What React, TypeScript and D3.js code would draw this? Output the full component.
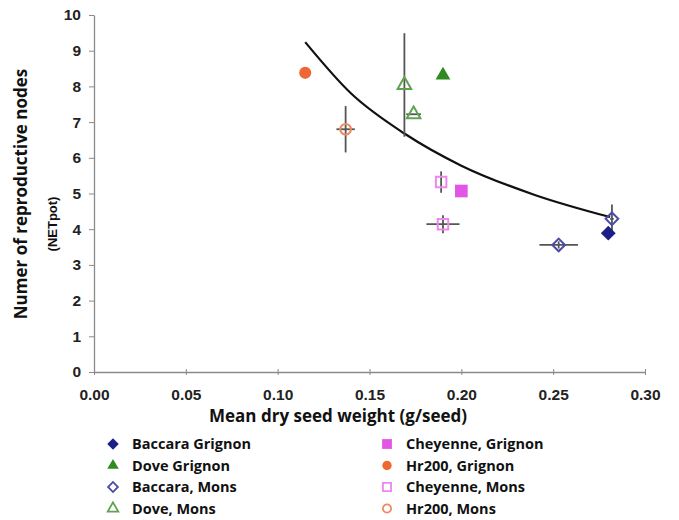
import React, { useEffect, useRef } from "react";
import * as d3 from "d3";

// series (legend order: left column then right column)
const seriesNames = [
  "Baccara Grignon",
  "Dove Grignon",
  "Baccara, Mons",
  "Dove, Mons",
  "Cheyenne, Grignon",
  "Hr200, Grignon",
  "Cheyenne, Mons",
  "Hr200, Mons",
];
const seriesShapes = ["diamond", "triangle", "diamond", "triangle", "square", "circle", "square", "circle"];
const seriesFilled = [true, true, false, false, true, true, false, false];
const seriesColors = ["#1c1f86", "#2f8a1f", "#4a4aa8", "#5fa352", "#e256e6", "#ef6733", "#ec88ee", "#ef8a5f"];

// observations
const pointSeries = [0, 1, 2, 2, 3, 3, 4, 5, 6, 6, 7];
const seedWeight = [0.28, 0.19, 0.282, 0.253, 0.169, 0.174, 0.2, 0.115, 0.189, 0.19, 0.137];
const nodes = [3.89, 8.31, 4.29, 3.56, 8.04, 7.22, 5.07, 8.38, 5.32, 4.14, 6.8];
const seedWeightErr = [0, 0, 0.001, 0.0105, 0, 0.004, 0, 0, 0, 0.009, 0.005];
const nodesErr = [0, 0, 0.4, 0.1, 1.45, 0, 0, 0, 0.3, 0.25, 0.65];

// trend line
const trendX = [0.115, 0.14, 0.169, 0.2, 0.24, 0.281];
const trendY = [9.24, 7.8, 6.68, 5.78, 4.96, 4.34];

const xTicks = [0, 0.05, 0.1, 0.15, 0.2, 0.25, 0.3];
const yTicks = [0, 1, 2, 3, 4, 5, 6, 7, 8, 9, 10];

const symbolTypes: Record<string, d3.SymbolType> = {
  diamond: d3.symbolSquare,
  triangle: d3.symbolTriangle,
  square: d3.symbolSquare,
  circle: d3.symbolCircle,
};
const symbolRotate: Record<string, number> = { diamond: 45, triangle: 0, square: 0, circle: 0 };
const openSizes: Record<string, number> = { diamond: 80, triangle: 80, square: 110, circle: 90 };
const filledSizes: Record<string, number> = { diamond: 110, triangle: 95, square: 160, circle: 115 };

export default function App() {
  const ref = useRef<SVGSVGElement>(null);

  useEffect(() => {
    const svg = d3.select(ref.current);
    svg.selectAll("*").remove();

    const x = d3.scaleLinear().domain([0, 0.3]).range([94, 645]);
    const y = d3.scaleLinear().domain([0, 10]).range([372, 15]);
    const axisColor = "#8a8a8a";
    const tickFont = "'Liberation Sans', Arial, sans-serif";
    const labelFont = "'Open Sans', sans-serif";

    // axes
    const gx = svg.append("g").attr("transform", `translate(0,${y(0)})`);
    gx.call(d3.axisBottom(x).tickValues(xTicks).tickSize(3).tickSizeOuter(0).tickFormat(d3.format(".2f")));
    gx.select(".domain").attr("stroke", axisColor).attr("stroke-width", 1.3);
    gx.selectAll(".tick line").attr("stroke", axisColor).attr("y1", -3).attr("y2", 3);
    gx.selectAll(".tick text")
      .attr("y", 17)
      .attr("fill", "#222")
      .attr("font-family", tickFont)
      .attr("font-weight", "bold")
      .attr("font-size", 15.5);

    const gy = svg.append("g").attr("transform", `translate(${x(0)},0)`);
    gy.call(d3.axisLeft(y).tickValues(yTicks).tickSize(5).tickSizeOuter(0));
    gy.select(".domain").attr("stroke", axisColor).attr("stroke-width", 1.3);
    gy.selectAll(".tick line").attr("stroke", axisColor);
    gy.selectAll(".tick text")
      .attr("x", -13)
      .attr("fill", "#222")
      .attr("font-family", tickFont)
      .attr("font-weight", "bold")
      .attr("font-size", 15.5);

    // titles
    svg.append("text")
      .attr("transform", `translate(27,194) rotate(-90)`)
      .attr("text-anchor", "middle")
      .attr("font-family", labelFont)
      .attr("font-weight", "bold")
      .attr("font-size", 17)
      .attr("fill", "#111")
      .text("Numer of reproductive nodes");
    svg.append("text")
      .attr("transform", `translate(57,224) rotate(-90)`)
      .attr("text-anchor", "middle")
      .attr("font-family", "'Liberation Sans Narrow', 'Liberation Sans', Arial, sans-serif")
      .attr("font-weight", "bold")
      .attr("font-size", 13)
      .attr("fill", "#111")
      .text("(NETpot)");
    svg.append("text")
      .attr("x", 338)
      .attr("y", 422)
      .attr("text-anchor", "middle")
      .attr("font-family", labelFont)
      .attr("font-weight", "bold")
      .attr("font-size", 17)
      .attr("fill", "#111")
      .text("Mean dry seed weight (g/seed)");

    // trend line
    const line = d3
      .line<number>()
      .x((d) => x(d))
      .y((d, i) => y(trendY[i]))
      .curve(d3.curveMonotoneX);
    svg.append("path")
      .attr("d", line(trendX))
      .attr("fill", "none")
      .attr("stroke", "#111")
      .attr("stroke-width", 2.2);

    // error bars
    const idx = d3.range(seedWeight.length);
    const eb = svg.append("g").attr("stroke", "#555").attr("stroke-width", 1.8);
    idx.filter((i) => nodesErr[i] > 0).forEach((i) => {
      eb.append("line")
        .attr("x1", x(seedWeight[i])).attr("x2", x(seedWeight[i]))
        .attr("y1", y(nodes[i] - nodesErr[i])).attr("y2", y(nodes[i] + nodesErr[i]));
    });
    idx.filter((i) => seedWeightErr[i] > 0).forEach((i) => {
      eb.append("line")
        .attr("y1", y(nodes[i])).attr("y2", y(nodes[i]))
        .attr("x1", x(seedWeight[i] - seedWeightErr[i])).attr("x2", x(seedWeight[i] + seedWeightErr[i]));
    });

    // markers
    const sym = (s: number, scale: number) => {
      const shape = seriesShapes[s];
      const size = (seriesFilled[s] ? filledSizes[shape] : openSizes[shape]) * scale;
      return d3.symbol().type(symbolTypes[shape]).size(size)();
    };
    svg.append("g")
      .selectAll("path")
      .data(idx)
      .join("path")
      .attr(
        "transform",
        (i) => `translate(${x(seedWeight[i])},${y(nodes[i])}) rotate(${symbolRotate[seriesShapes[pointSeries[i]]]})`
      )
      .attr("d", (i) => sym(pointSeries[i], 1))
      .attr("fill", (i) => (seriesFilled[pointSeries[i]] ? seriesColors[pointSeries[i]] : "none"))
      .attr("stroke", (i) => seriesColors[pointSeries[i]])
      .attr("stroke-width", (i) => (seriesFilled[pointSeries[i]] ? 0 : 2));

    // legend
    const lg = svg.append("g");
    seriesNames.forEach((name, s) => {
      const col = s < 4 ? 0 : 1;
      const row = s % 4;
      const lx = col === 0 ? 113 : 387;
      const ly = 444 + row * 21.5;
      lg.append("path")
        .attr("transform", `translate(${lx},${ly}) rotate(${symbolRotate[seriesShapes[s]]})`)
        .attr("d", sym(s, 0.6))
        .attr("fill", seriesFilled[s] ? seriesColors[s] : "none")
        .attr("stroke", seriesColors[s])
        .attr("stroke-width", seriesFilled[s] ? 0 : 1.8);
      lg.append("text")
        .attr("x", lx + 19)
        .attr("y", ly)
        .attr("dy", "0.35em")
        .attr("font-family", labelFont)
        .attr("font-weight", "bold")
        .attr("font-size", 14.5)
        .attr("fill", "#111")
        .text(name);
    });
  }, []);

  return (
    <svg
      ref={ref}
      width={679}
      height={520}
      style={{ position: "absolute", left: 0, top: 0, background: "#fff" }}
    />
  );
}
